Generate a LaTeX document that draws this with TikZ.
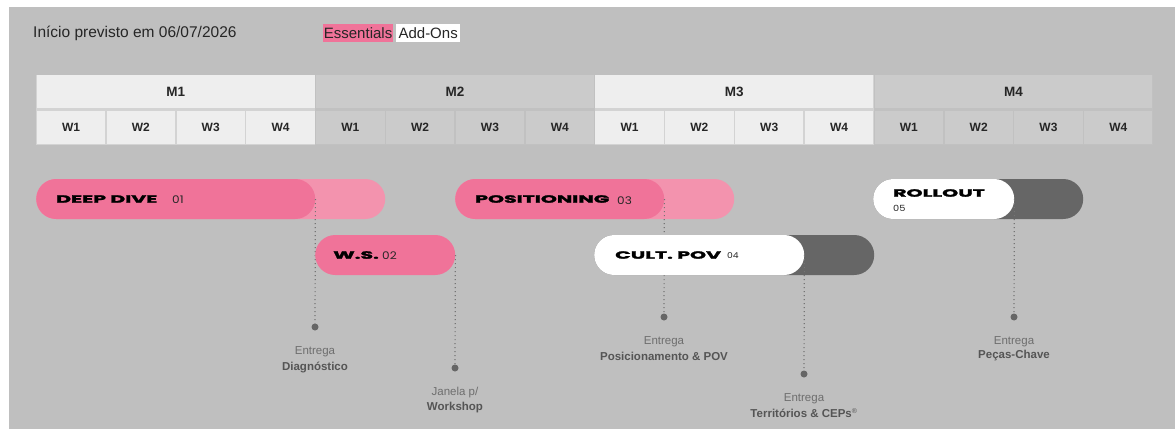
\documentclass[tikz,border=0pt]{standalone}
\usepackage{fontspec}
\setmainfont{Liberation Sans}
\newfontfamily\widefont{Poppins}[FakeStretch=1.95,BoldFeatures={FakeBold=2.5}]
\newfontfamily\numfont{Poppins}[FakeStretch=1.15]
\definecolor{bg}{HTML}{BFBFBF}
\definecolor{cellA}{HTML}{EEEEEE}
\definecolor{cellB}{HTML}{CBCBCB}
\definecolor{sepA}{HTML}{D3D3D3}
\definecolor{sepB}{HTML}{C1C1C1}
\definecolor{pinkD}{HTML}{F07399}
\definecolor{pinkL}{HTML}{F393AE}
\definecolor{darkg}{HTML}{666666}
\definecolor{lbl}{HTML}{6E6E6E}
\definecolor{lblb}{HTML}{555555}
\begin{document}
\begin{tikzpicture}[x=1pt,y=-1pt,
  mcell/.style={rectangle, anchor=north west, minimum width=277.75pt, minimum height=33pt, inner sep=0pt, font=\fontsize{13.5}{15}\selectfont\bfseries, text=black!85},
  wcell/.style={rectangle, anchor=north west, minimum width=68.3pt, minimum height=33.5pt, inner sep=0pt, font=\fontsize{12}{14}\selectfont\bfseries, text=black!85},
  pill/.style={rectangle, rounded corners=20pt, minimum height=40pt, inner sep=0pt, anchor=west},
  barlabel/.style={anchor=west, inner sep=0pt, text=black, font=\fontsize{10.5}{12}\selectfont\widefont\bfseries},
  numtxt/.style={anchor=west, inner sep=0pt, text=black!85, font=\fontsize{10.5}{12}\selectfont\numfont},
  dot/.style={circle, fill=darkg, minimum size=7pt, inner sep=0pt},
  conn/.style={draw=darkg!90, line width=1.2pt, dash pattern=on 1.2pt off 2.8pt},
  lbltop/.style={text=lbl, font=\fontsize{11.5}{13}\selectfont, inner sep=0pt},
  lblbot/.style={text=lblb, font=\fontsize{11.5}{13}\selectfont\bfseries, inner sep=0pt},
  legend/.style={anchor=west, inner ysep=3.5pt, font=\fontsize{15}{17}\selectfont, text=black!85}
]
\useasboundingbox (0,0) rectangle (1175,431);
\fill[white] (0,0) rectangle (1175,431);
\fill[bg] (9,7) rectangle (1175,429);

% header
\node[anchor=west, inner sep=0pt, font=\fontsize{15.5}{17}\selectfont, text=black!85] (title) at (33,33) {Início previsto em 06/07/2026};
\node[legend, fill=pinkD, inner xsep=0.7pt] (ess) at (323,33) {Essentials};
\node[legend, fill=white, inner xsep=2.2pt] (add) at ([xshift=3pt]ess.east) {Add-Ons};

% table
\foreach \m/\c/\s in {1/cellA/sepA,2/cellB/sepB,3/cellA/sepA,4/cellB/sepB}{
  \fill[\s] ({36+(\m-1)*279.25},75) rectangle ({36+\m*279.25},145);
  \node[mcell, fill=\c] (M\m) at ({36+(\m-1)*279.25+0.75},75) {M\m};
  \foreach \w in {1,2,3,4}{
    \node[wcell, fill=\c] (W\m\w) at ({36+(\m-1)*279.25+(\w-1)*69.8125+0.75},110.5) {W\w};
  }
}

% upper row bars
\node[pill, fill=pinkL, minimum width=349pt] (ddx) at (36,199) {};
\node[pill, fill=pinkD, minimum width=279pt] (dd) at (36,199) {};
\node[barlabel] (ddt) at (56,199) {DEEP DIVE};
\node[numtxt] (ddn) at (172,200) {01};

\node[pill, fill=pinkL, minimum width=279pt] (posx) at (455,199) {};
\node[pill, fill=pinkD, minimum width=209pt] (pos) at (455,199) {};
\node[barlabel] (post) at (475,199) {POSITIONING};
\node[numtxt] (posn) at (617,200.5) {03};

\node[pill, fill=darkg, minimum width=210pt] (rolx) at (873,199) {};
\node[pill, fill=white, minimum width=141pt] (rol) at (873,199) {};
\node[barlabel] (rolt) at (893,193) {ROLLOUT};
\node[numtxt, font=\fontsize{8.5}{10}\selectfont\numfont] (roln) at (893,208) {05};

% dots and connectors of the upper row
\node[dot] (d1) at (315,327) {};
\node[dot] (d3) at (664,317) {};
\node[dot] (d5) at (1014,317) {};
\draw[conn] (dd.east) -- (d1);
\draw[conn] (pos.east) -- (d3);
\draw[conn] (rol.east) -- (d5);

% lower row bars
\node[pill, fill=pinkD, minimum width=140pt] (ws) at (315,255) {};
\node[barlabel] (wst) at (333,255) {W.S.};
\node[numtxt] (wsn) at (382,256) {02};

\node[pill, fill=darkg, minimum width=280pt] (cpx) at (594,255) {};
\node[pill, fill=white, minimum width=210pt] (cp) at (594,255) {};
\node[barlabel] (cpt) at (615,255) {CULT. POV};
\node[numtxt, font=\fontsize{8}{9}\selectfont\numfont] (cpn) at (727,256) {04};

\node[dot] (d2) at (455,368) {};
\node[dot] (d4) at (804,374) {};
\draw[conn] (ws.east) -- (d2);
\draw[conn] (cp.east) -- (d4);

\node[lbltop] (l1a) at (315,352) {Entrega};
\node[lblbot] (l1b) at (315,367) {Diagnóstico};
\node[lbltop] (l2a) at (455,393) {Janela p/};
\node[lblbot] (l2b) at (455,408) {Workshop};
\node[lbltop] (l3a) at (664,342) {Entrega};
\node[lblbot] (l3b) at (664,356) {Posicionamento \& POV};
\node[lbltop] (l4a) at (804,399) {Entrega};
\node[lblbot] (l4b) at (804,413) {Territórios \& CEPs\textsuperscript{\fontsize{7}{8}\selectfont\mdseries ®}};
\node[lbltop] (l5a) at (1014,342) {Entrega};
\node[lblbot] (l5b) at (1014,356) {Peças-Chave};
\end{tikzpicture}
\end{document}
